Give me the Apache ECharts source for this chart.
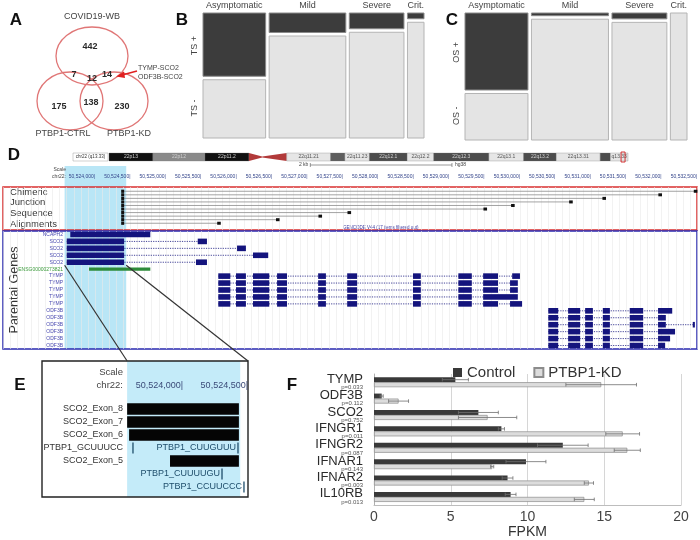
<!DOCTYPE html>
<html>
<head>
<meta charset="utf-8">
<title>PTBP1 chimeric transcripts</title>
<script src="https://cdn.jsdelivr.net/npm/echarts@6.0.0/dist/echarts.min.js"></script>
<style>
  html, body { margin: 0; padding: 0; background: #fff; }
  #chart-container { width: 700px; height: 540px; }
</style>
</head>
<body>
<div id="chart-container"></div>
<script>
const chartContainer = document.getElementById('chart-container');
const myChart = echarts.init(chartContainer);
const FONT = '"Liberation Sans", Arial, sans-serif';

// ---------- A: Venn ----------
const vennSets = ['COVID19-WB', 'PTBP1-CTRL', 'PTBP1-KD'];
// WB only, WB+CTRL, all three, WB+KD, CTRL only, CTRL+KD, KD only
const vennCounts = [442, 7, 12, 14, 175, 138, 230];
const vennNote = ['TYMP-SCO2', 'ODF3B-SCO2'];

// ---------- B / C: mosaic ----------
const severity = ['Asymptomatic', 'Mild', 'Severe', 'Crit.'];
const severityN = [33, 40, 29, 10];
const tsPositive = [0.52, 0.17, 0.14, 0.06];
const osPositive = [0.62, 0.035, 0.06, 0];

// ---------- D: chr22 ideogram (Mb) ----------
const bandName = ['22p13', '22p12', '22p11.2', '', '', '22q11.21', 'q11.22', '22q11.23', '22q12.1', '22q12.2', '22q12.3', '22q13.1', '22q13.2', '22q13.31', '', 'q13.33'];
const bandStart = [0, 4.3, 9.4, 13.7, 15.0, 17.4, 21.7, 23.1, 25.5, 29.2, 31.8, 37.2, 40.6, 43.8, 48.1, 49.1];
const bandEnd = [4.3, 9.4, 13.7, 15.0, 17.4, 21.7, 23.1, 25.5, 29.2, 31.8, 37.2, 40.6, 43.8, 48.1, 49.1, 50.82];
const bandStain = ['gvar', 'stalk', 'gvar', 'acen', 'acen', 'gneg', 'gpos25', 'gneg', 'gpos50', 'gneg', 'gpos50', 'gneg', 'gpos50', 'gneg', 'gpos50', 'gneg'];

// ---------- D: browser tracks (bp) ----------
const DMIN = 50522700, DMAX = 50532500;
const scaleTicks = [50524000, 50524500, 50525000, 50525500, 50526000, 50526500, 50527000, 50527500, 50528000,
  50528500, 50529000, 50529500, 50530000, 50530500, 50531000, 50531500, 50532000, 50532500];
const scaleBar = [50527040, 50529040];
const highlight = [50523570, 50524440];
const chimericStart = 50524390;
const chimericEnd = [50532480, 50531980, 50531190, 50530720, 50529900, 50529510, 50527590, 50527180, 50526580, 50525750];

const geneNames = ['NCAPH2', 'SCO2', 'SCO2', 'SCO2', 'SCO2', 'ENSG00000273821', 'TYMP', 'TYMP', 'TYMP', 'TYMP', 'TYMP',
  'ODF3B', 'ODF3B', 'ODF3B', 'ODF3B', 'ODF3B', 'ODF3B'];
const ncaph2Exons = [[50523650, 50524780]];
const sco2Exon1 = [50523600, 50524410];
const sco2Exon2 = [[50525450, 50525580], [50526005, 50526130], [50526230, 50526445], [50525425, 50525580]];
const ensgExons = [[50523915, 50524780]];
const tympExons = [[50525740, 50525910], [50525990, 50526130], [50526230, 50526460], [50526570, 50526710], [50527150, 50527260],
  [50527560, 50527700], [50528490, 50528600], [50529130, 50529320], [50529480, 50529690]];
const tympLast = [[50529890, 50530000], [50529860, 50529970], [50529860, 50529970], [50529690, 50529970], [50529860, 50530030]];
const odf3bExons = [[50530400, 50530540], [50530680, 50530850], [50530920, 50531030], [50531170, 50531270], [50531550, 50531740]];
const odf3bLast = [[50531950, 50532150], [50531950, 50532060], [50531950, 50532060], [50531950, 50532190], [50531950, 50532120], [50531950, 50532050]];
const odf3bTail = [0, 0, 50532470, 0, 0, 0];

// ---------- E: zoomed SCO2 region ----------
const E_RANGE = [50522915, 50524500];
const eTicks = [50524000, 50524500];
const eRowNames = ['SCO2_Exon_8', 'SCO2_Exon_7', 'SCO2_Exon_6', 'PTBP1_GCUUUCC', 'SCO2_Exon_5', '', ''];
const eExons = [[0, 50523570, 50524430], [1, 50523570, 50524430], [2, 50523585, 50524430], [4, 50523900, 50524430]];
const eMotifs = [[3, 50523615, ''], [3, 50524423, 'PTBP1_CUUGUUU'], [5, 50524300, 'PTBP1_CUUUUGU'], [6, 50524469, 'PTBP1_CCUUCCC']];

// ---------- F: FPKM ----------
const fGenes = ['TYMP', 'ODF3B', 'SCO2', 'IFNGR1', 'IFNGR2', 'IFNAR1', 'IFNAR2', 'IL10RB'];
const fPvals = ['p=0.033', 'p=0.112', 'p=0.752', 'p=0.011', 'p=0.087', 'p=0.143', 'p=0.003', 'p=0.013'];
const ctrlMean = [5.3, 0.5, 6.8, 8.3, 12.3, 9.9, 8.7, 8.9];
const ctrlErr = [0.85, 0.1, 1.3, 0.2, 1.65, 1.3, 0.35, 0.35];
const kdMean = [14.8, 1.6, 7.4, 16.2, 16.5, 7.7, 14.0, 13.7];
const kdErr = [2.3, 0.65, 1.9, 1.1, 0.85, 0.1, 0.3, 0.65];

const NAVY = '#14147d';
const GREEN = '#2e8b3a';
const TEAL = '#1e4d6b';
const stainColor = { gvar: '#111', stalk: '#8a8a8a', gpos25: '#5e5e5e', gpos50: '#4d4d4d', gneg: '#e6e6e6', acen: '#b23a3a' };

function fmtBp(v) {
    return String(v).replace(/\B(?=(\d{3})+(?!\d))/g, ',');
}

function textEl(x, y, text, size, color, align, extra) {
    return Object.assign({
        type: 'text', x: x, y: y,
        style: Object.assign({
            text: text, fontSize: size, fontFamily: FONT, fill: color,
            align: align || 'left', textAlign: align || 'left',
            verticalAlign: 'middle', textVerticalAlign: 'middle'
        }, extra && extra.style)
    }, extra && extra.el);
}

// ---------- mosaic renderer ----------
const severityCum = severityN.map((n, i) => severityN.slice(0, i).reduce((a, b) => a + b, 0));
const severityTotal = severityN.reduce((a, b) => a + b, 0);

function mosaicRender(posFrac, rowLabels) {
    return function (params, api) {
        const i = params.dataIndex;
        const gap = 3.5;
        const xa = api.coord([severityCum[i], 0])[0];
        const xb = api.coord([severityCum[i] + severityN[i], 0])[0] - gap;
        const top = api.coord([0, 0])[1];
        const bottom = api.coord([0, 1])[1];
        const split = api.coord([0, posFrac[i]])[1];
        const children = [];
        if (posFrac[i] > 0) {
            children.push({ type: 'rect', shape: { x: xa, y: top, width: xb - xa, height: split - gap / 2 - top },
                style: { fill: '#3c3c3c', stroke: '#8a8a8a', lineWidth: 1 } });
        }
        const lightTop = posFrac[i] > 0 ? split + gap / 2 : top;
        children.push({ type: 'rect', shape: { x: xa, y: lightTop, width: xb - xa, height: bottom - lightTop },
            style: { fill: '#e4e4e4', stroke: '#b4b4b4', lineWidth: 1 } });
        children.push(textEl((xa + xb) / 2, top - 7, severity[i], 9, '#444', 'center'));
        if (i === 0) {
            children.push(textEl(xa - 8, (top + split) / 2, rowLabels[0], 9, '#444', 'center', { el: { rotation: Math.PI / 2 } }));
            children.push(textEl(xa - 8, (split + bottom) / 2, rowLabels[1], 9, '#444', 'center', { el: { rotation: Math.PI / 2 } }));
        }
        return { type: 'group', children: children };
    };
}

// ---------- ideogram renderer ----------
function ideogramRender(params, api) {
    const i = params.dataIndex;
    const x0 = api.coord([bandStart[i], 0])[0];
    const x1 = api.coord([bandEnd[i], 0])[0];
    const cs = params.coordSys;
    const top = cs.y, bot = cs.y + cs.height, mid = cs.y + cs.height / 2;
    const stain = bandStain[i];
    if (stain === 'acen') {
        const pts = i === 3 ? [[x0, top], [x1, mid - 0.6], [x1, mid + 0.6], [x0, bot]]
                            : [[x0, mid - 0.6], [x1, top], [x1, bot], [x0, mid + 0.6]];
        return { type: 'polygon', shape: { points: pts }, style: { fill: stainColor.acen } };
    }
    const children = [{ type: 'rect', shape: { x: x0, y: top, width: x1 - x0, height: cs.height },
        style: { fill: stainColor[stain], stroke: '#777', lineWidth: 0.3 } }];
    const label = bandName[i];
    if (label && label.length * 2.6 < x1 - x0) {
        children.push(textEl((x0 + x1) / 2, mid, label, 5, stain === 'gneg' ? '#555' : '#cfcfcf', 'center'));
    }
    return { type: 'group', children: children };
}

function viewBoxRender(params, api) {
    const x0 = api.coord([api.value(0), 0])[0];
    const x1 = api.coord([api.value(1), 0])[0];
    const cs = params.coordSys;
    const w = Math.max(x1 - x0, 4);
    return { type: 'rect', shape: { x: x1 - w, y: cs.y - 1, width: w, height: cs.height + 2 },
        style: { fill: 'none', stroke: '#d02020', lineWidth: 0.9 } };
}

// ---------- highlight renderer (shared by D and E) ----------
function highlightRender(color) {
    return function (params, api) {
        const x0 = api.coord([api.value(0), 0])[0];
        const x1 = api.coord([api.value(1), 0])[0];
        const cs = params.coordSys;
        return { type: 'rect', shape: { x: x0, y: cs.y, width: x1 - x0, height: cs.height }, style: { fill: color } };
    };
}

// ---------- chimeric alignments ----------
function chimericRender(params, api) {
    const p0 = api.coord([api.value(0), api.value(2)]);
    const p1 = api.coord([api.value(1), api.value(2)]);
    return { type: 'group', children: [
        { type: 'line', shape: { x1: p0[0], y1: p0[1], x2: p1[0], y2: p1[1] }, style: { stroke: '#8c8c8c', lineWidth: 0.8 } },
        { type: 'rect', shape: { x: p0[0] - 1.5, y: p0[1] - 1.6, width: 3, height: 3.2 }, style: { fill: '#111' } },
        { type: 'rect', shape: { x: p1[0] - 1.8, y: p1[1] - 1.5, width: 3.6, height: 3 }, style: { fill: '#111' } }
    ] };
}

// ---------- parental genes ----------
const geneItems = []; // [start, end, row, kind] kind 0 = intron, 1 = exon, 2 = green exon
function addTranscript(row, exons, kind) {
    const s = Math.min(...exons.map(e => e[0]));
    const t = Math.max(...exons.map(e => e[1]));
    if (exons.length > 1) geneItems.push([s, t, row, 0]);
    exons.forEach(e => geneItems.push([e[0], e[1], row, kind]));
}
addTranscript(0, ncaph2Exons, 1);
sco2Exon2.forEach((ex, k) => addTranscript(1 + k, [sco2Exon1, ex], 1));
addTranscript(5, ensgExons, 2);
tympLast.forEach((ex, k) => addTranscript(6 + k, tympExons.concat([ex]), 1));
odf3bLast.forEach((ex, k) => {
    const exons = odf3bExons.concat([ex]);
    if (odf3bTail[k]) exons.push([odf3bTail[k] - 30, odf3bTail[k]]);
    addTranscript(11 + k, exons, 1);
});

function geneRender(params, api) {
    const it = geneItems[params.dataIndex];
    const p0 = api.coord([it[0], it[2]]);
    const p1 = api.coord([it[1], it[2]]);
    if (it[3] === 0) {
        return { type: 'line', shape: { x1: p0[0], y1: p0[1], x2: p1[0], y2: p1[1] },
            style: { stroke: NAVY, lineWidth: 0.8, lineDash: [1.2, 1.2] } };
    }
    const h = it[3] === 2 ? 3.2 : 5.6;
    return { type: 'rect', shape: { x: p0[0], y: p0[1] - h / 2, width: Math.max(p1[0] - p0[0], 1), height: h },
        style: { fill: it[3] === 2 ? GREEN : NAVY } };
}

// ---------- E features ----------
const eItems = eExons.map(e => [e[1], e[2], e[0], 1, ''])
    .concat(eMotifs.map(m => [m[1], m[1], m[0], 2, m[2]]));

function eRender(params, api) {
    const it = eItems[params.dataIndex];
    const p0 = api.coord([it[0], it[2]]);
    const p1 = api.coord([it[1], it[2]]);
    if (it[3] === 1) {
        return { type: 'rect', shape: { x: p0[0], y: p0[1] - 5.8, width: p1[0] - p0[0], height: 11.6 }, style: { fill: '#050505' } };
    }
    const children = [{ type: 'line', shape: { x1: p0[0], y1: p0[1] - 5.5, x2: p0[0], y2: p0[1] + 5.5 },
        style: { stroke: TEAL, lineWidth: 1.3 } }];
    if (it[4]) children.push(textEl(p0[0] - 2, p0[1], it[4], 9, TEAL, 'right'));
    return { type: 'group', children: children };
}

// ---------- F error bars ----------
function errorRender(offset) {
    return function (params, api) {
        const m = api.value(0), cat = api.value(1), e = api.value(2);
        const y = api.coord([m, cat])[1] + offset;
        const xl = api.coord([m - e, cat])[0];
        const xr = api.coord([m + e, cat])[0];
        const st = { stroke: '#6f6f6f', lineWidth: 0.8 };
        return { type: 'group', children: [
            { type: 'line', shape: { x1: xl, y1: y, x2: xr, y2: y }, style: st },
            { type: 'line', shape: { x1: xl, y1: y - 1.8, x2: xl, y2: y + 1.8 }, style: st },
            { type: 'line', shape: { x1: xr, y1: y - 1.8, x2: xr, y2: y + 1.8 }, style: st }
        ] };
    };
}

// ---------- static graphics ----------
const graphics = [];
[['A', 16, 20], ['B', 182, 20], ['C', 452, 20], ['D', 14, 155], ['E', 20, 385], ['F', 292, 385]].forEach(l => {
    graphics.push(textEl(l[1], l[2], l[0], 17, '#111', 'center', { style: { fontWeight: 'bold' } }));
});

const vennEllipses = [[92, 56, 36, 29], [70, 101, 33, 29], [114, 101, 34, 29]];
const vennSetPos = [[92, 17], [63, 134], [129, 134]];
const vennCountPos = [[90, 47], [74, 75], [92, 79], [107, 75], [59, 107], [91, 103], [122, 107]];
vennEllipses.forEach(e => graphics.push({ type: 'ellipse', shape: { cx: e[0], cy: e[1], rx: e[2], ry: e[3] },
    style: { fill: 'none', stroke: '#e07676', lineWidth: 1.3 } }));
vennSets.forEach((s, i) => graphics.push(textEl(vennSetPos[i][0], vennSetPos[i][1], s, 9, '#444', 'center')));
vennCounts.forEach((c, i) => graphics.push(textEl(vennCountPos[i][0], vennCountPos[i][1], String(c), 9, '#2a2a2a', 'center', { style: { fontWeight: 'bold' } })));
graphics.push(textEl(138, 68, vennNote[0], 7, '#444', 'left'));
graphics.push(textEl(138, 77, vennNote[1], 7, '#444', 'left'));
graphics.push({ type: 'line', shape: { x1: 137, y1: 71, x2: 122, y2: 75 }, style: { stroke: '#e02020', lineWidth: 1.3 } });
graphics.push({ type: 'polygon', shape: { points: [[116, 76.5], [124, 71.5], [125, 78]] }, style: { fill: '#e02020' } });

// D texts
graphics.push({ type: 'rect', shape: { x: 73, y: 153, width: 35, height: 8 }, style: { fill: '#fff', stroke: '#888', lineWidth: 0.4 } });
graphics.push(textEl(90.5, 157, 'chr22 (q13.33)', 4.5, '#333', 'center'));
graphics.push(textEl(66, 170, 'Scale', 5, '#444', 'right'));
graphics.push(textEl(66, 177, 'chr22:', 5, '#444', 'right'));
['Chimeric', 'Junction', 'Sequence', 'Alignments'].forEach((t, i) => graphics.push(textEl(10, 192 + i * 10.7, t, 9.5, '#333', 'left')));
graphics.push(textEl(15, 290, 'Parental Genes', 12.5, '#333', 'center', { el: { rotation: Math.PI / 2 } }));
graphics.push(textEl(343, 227.5, 'GENCODE V44 (17 items filtered out)', 4.5, '#3a3aa0', 'left'));
// E texts
graphics.push(textEl(123, 372, 'Scale', 9.5, '#444', 'right'));
graphics.push(textEl(123, 385, 'chr22:', 9.5, '#444', 'right'));
graphics.forEach((g, i) => { g.id = 'g' + i; });

const hiddenAxis = { show: false };

const option = {
    animation: false,
    backgroundColor: '#fff',
    textStyle: { fontFamily: FONT },
    legend: {
        data: ['Control', 'PTBP1-KD'],
        left: 448, top: 360,
        icon: 'rect', itemWidth: 9, itemHeight: 9, itemGap: 18,
        textStyle: { fontSize: 15, color: '#333', fontFamily: FONT }
    },
    grid: [
        { left: 374, right: 19, top: 374, bottom: 32 },                       // 0 F
        { left: 203, top: 13, width: 224.5, height: 125 },                    // 1 B
        { left: 465, top: 13, width: 225.5, height: 127 },                    // 2 C
        { left: 3, top: 166, width: 694, height: 183 },                       // 3 D scale + highlight
        { left: 3, top: 187, width: 694, height: 43, show: true, borderColor: '#d93030', borderWidth: 1.5, backgroundColor: 'transparent' }, // 4 D chimeric
        { left: 3, top: 231, width: 694, height: 118, show: true, borderColor: '#2a2ab0', borderWidth: 1.5, backgroundColor: 'transparent' }, // 5 D genes
        { left: 109, top: 153, width: 519, height: 8 },                       // 6 ideogram
        { left: 42, top: 361, width: 206, height: 136, show: true, borderColor: '#222', borderWidth: 1.4, backgroundColor: 'transparent' }, // 7 E box
        { left: 42, top: 402.5, width: 206, height: 91 }                      // 8 E rows
    ],
    xAxis: [
        {
            gridIndex: 0, type: 'value', min: 0, max: 20, interval: 5,
            axisLine: { show: true, lineStyle: { color: '#bdbdbd' } },
            axisTick: { show: false },
            splitLine: { lineStyle: { color: '#d6d6d6' } },
            axisLabel: { fontSize: 14, color: '#444', margin: 5 },
            name: 'FPKM', nameLocation: 'middle', nameGap: 18,
            nameTextStyle: { fontSize: 14, color: '#333' }
        },
        Object.assign({ gridIndex: 1, type: 'value', min: 0, max: severityTotal }, hiddenAxis),
        Object.assign({ gridIndex: 2, type: 'value', min: 0, max: severityTotal }, hiddenAxis),
        {
            gridIndex: 3, type: 'value', min: DMIN, max: DMAX, position: 'top', offset: -15,
            axisLine: { show: false }, axisTick: { show: false }, splitLine: { show: false },
            axisLabel: { customValues: scaleTicks, formatter: v => fmtBp(v) + '|', fontSize: 5, color: '#33448a', align: 'right', margin: 2 }
        },
        {
            gridIndex: 4, type: 'value', min: DMIN, max: DMAX, interval: 100,
            axisLine: { show: false }, axisTick: { show: false }, axisLabel: { show: false },
            splitLine: { show: true, lineStyle: { color: '#e9e9e9', width: 0.6 } }
        },
        {
            gridIndex: 5, type: 'value', min: DMIN, max: DMAX, interval: 100,
            axisLine: { show: false }, axisTick: { show: false }, axisLabel: { show: false },
            splitLine: { show: true, lineStyle: { color: '#e9e9e9', width: 0.6 } }
        },
        Object.assign({ gridIndex: 6, type: 'value', min: 0, max: 50.82 }, hiddenAxis),
        {
            gridIndex: 7, type: 'value', min: E_RANGE[0], max: E_RANGE[1], position: 'top', offset: -32,
            axisLine: { show: false }, axisTick: { show: false }, splitLine: { show: false },
            axisLabel: { customValues: eTicks, formatter: v => fmtBp(v) + '|', fontSize: 9, color: '#3a4a78', align: 'right', margin: 3 }
        },
        Object.assign({ gridIndex: 8, type: 'value', min: E_RANGE[0], max: E_RANGE[1] }, hiddenAxis)
    ],
    yAxis: [
        {
            gridIndex: 0, type: 'category', data: fGenes, inverse: true,
            axisLine: { show: true, lineStyle: { color: '#b0b0b0' } },
            axisTick: { show: false },
            axisLabel: {
                interval: 0, margin: 11, align: 'right',
                formatter: (v, idx) => '{n|' + v + '}\n{p|' + fPvals[idx] + '}',
                rich: {
                    n: { fontSize: 13, lineHeight: 10.5, color: '#2b2b2b', align: 'right', fontFamily: FONT },
                    p: { fontSize: 6, lineHeight: 6, color: '#555', align: 'right', fontFamily: FONT }
                }
            }
        },
        Object.assign({ gridIndex: 1, type: 'value', min: 0, max: 1, inverse: true }, hiddenAxis),
        Object.assign({ gridIndex: 2, type: 'value', min: 0, max: 1, inverse: true }, hiddenAxis),
        Object.assign({ gridIndex: 3, type: 'value', min: 0, max: 1 }, hiddenAxis),
        Object.assign({ gridIndex: 4, type: 'value', min: -1.2, max: 10.9, inverse: true }, hiddenAxis),
        {
            gridIndex: 5, type: 'category', data: geneNames, inverse: true, offset: -62,
            axisLine: { show: false }, axisTick: { show: false }, splitLine: { show: false },
            axisLabel: { interval: 0, fontSize: 5, margin: 2, color: (v) => v.indexOf('ENSG') === 0 ? '#3a9a3a' : '#4a4ab0' }
        },
        Object.assign({ gridIndex: 6, type: 'value', min: 0, max: 1 }, hiddenAxis),
        Object.assign({ gridIndex: 7, type: 'value', min: 0, max: 1 }, hiddenAxis),
        {
            gridIndex: 8, type: 'category', data: eRowNames, inverse: true, offset: -84,
            axisLine: { show: false }, axisTick: { show: false }, splitLine: { show: false },
            axisLabel: { interval: 0, fontSize: 9, color: '#333', margin: 3 }
        }
    ],
    series: [
        {
            name: 'Control', type: 'bar', xAxisIndex: 0, yAxisIndex: 0,
            data: ctrlMean, barWidth: 5, barGap: '0%',
            itemStyle: { color: '#393939' }
        },
        {
            name: 'PTBP1-KD', type: 'bar', xAxisIndex: 0, yAxisIndex: 0,
            data: kdMean, barWidth: 5, barGap: '0%',
            itemStyle: { color: '#dcdcdc', borderColor: '#8c8c8c', borderWidth: 0.7 }
        },
        {
            type: 'custom', xAxisIndex: 0, yAxisIndex: 0, z: 3,
            renderItem: errorRender(-2.5), encode: { x: 0, y: 1 },
            data: ctrlMean.map((m, i) => [m, i, ctrlErr[i]])
        },
        {
            type: 'custom', xAxisIndex: 0, yAxisIndex: 0, z: 3,
            renderItem: errorRender(2.5), encode: { x: 0, y: 1 },
            data: kdMean.map((m, i) => [m, i, kdErr[i]])
        },
        {
            type: 'custom', xAxisIndex: 1, yAxisIndex: 1,
            renderItem: mosaicRender(tsPositive, ['TS +', 'TS -']), encode: { x: 0, y: 1 },
            data: severity.map((s, i) => [severityCum[i], 0])
        },
        {
            type: 'custom', xAxisIndex: 2, yAxisIndex: 2,
            renderItem: mosaicRender(osPositive, ['OS +', 'OS -']), encode: { x: 0, y: 1 },
            data: severity.map((s, i) => [severityCum[i], 0])
        },
        {
            type: 'custom', xAxisIndex: 3, yAxisIndex: 3, z: -1,
            renderItem: highlightRender('#b9e6f6'), encode: { x: [0, 1], y: 2 },
            data: [[highlight[0], highlight[1], 0.5]]
        },
        {
            type: 'custom', xAxisIndex: 4, yAxisIndex: 4,
            renderItem: chimericRender, encode: { x: [0, 1], y: 2 },
            data: chimericEnd.map((e, i) => [chimericStart, e, i])
        },
        {
            type: 'custom', xAxisIndex: 5, yAxisIndex: 5,
            renderItem: geneRender, encode: { x: [0, 1], y: 2 },
            data: geneItems.map(it => [it[0], it[1], it[2]])
        },
        {
            type: 'custom', xAxisIndex: 6, yAxisIndex: 6,
            renderItem: ideogramRender, encode: { x: [0, 1], y: 2 },
            data: bandStart.map((s, i) => [s, bandEnd[i], 0.5])
        },
        {
            type: 'custom', xAxisIndex: 6, yAxisIndex: 6, z: 4,
            renderItem: viewBoxRender, encode: { x: [0, 1], y: 2 },
            data: [[DMIN / 1e6, DMAX / 1e6, 0.5]]
        },
        {
            type: 'custom', xAxisIndex: 7, yAxisIndex: 7, z: -1,
            renderItem: highlightRender('#c4ebf9'), encode: { x: [0, 1], y: 2 },
            data: [[highlight[0], highlight[1], 0.5]]
        },
        {
            type: 'custom', xAxisIndex: 8, yAxisIndex: 8,
            renderItem: eRender, encode: { x: [0, 1], y: 2 },
            data: eItems.map(it => [it[0], it[1], it[2]])
        }
    ],
    graphic: { elements: graphics }
};

myChart.setOption(option);

// zoom connectors and 2 kb scale bar, placed from the axes themselves
const rowY = myChart.convertToPixel({ yAxisIndex: 5 }, 4) + 3;
const dL = myChart.convertToPixel({ xAxisIndex: 5 }, highlight[0]);
const dR = myChart.convertToPixel({ xAxisIndex: 5 }, highlight[1]);
const eL = myChart.convertToPixel({ xAxisIndex: 7 }, highlight[0]);
const eR = myChart.convertToPixel({ xAxisIndex: 7 }, E_RANGE[1]);
const eTop = myChart.convertToPixel({ yAxisIndex: 7 }, 1);
const sb0 = myChart.convertToPixel({ xAxisIndex: 3 }, scaleBar[0]);
const sb1 = myChart.convertToPixel({ xAxisIndex: 3 }, scaleBar[1]);
const lineSt = { stroke: '#333', lineWidth: 1.2 };
const barSt = { stroke: '#555', lineWidth: 0.6 };
myChart.setOption({
    graphic: { elements: [
        { id: 'c1', type: 'line', z: 50, shape: { x1: dL, y1: rowY, x2: eL, y2: eTop }, style: lineSt },
        { id: 'c2', type: 'line', z: 50, shape: { x1: dR, y1: rowY, x2: eR, y2: eTop }, style: lineSt },
        { id: 's1', type: 'line', shape: { x1: sb0, y1: 165, x2: sb1, y2: 165 }, style: barSt },
        { id: 's2', type: 'line', shape: { x1: sb0, y1: 163, x2: sb0, y2: 167 }, style: barSt },
        { id: 's3', type: 'line', shape: { x1: sb1, y1: 163, x2: sb1, y2: 167 }, style: barSt },
        Object.assign(textEl(sb0 - 2, 165, '2 kb', 5, '#444', 'right'), { id: 's4' }),
        Object.assign(textEl(sb1 + 3, 165, 'hg38', 5, '#444', 'left'), { id: 's5' })
    ] }
});
</script>
</body>
</html>
